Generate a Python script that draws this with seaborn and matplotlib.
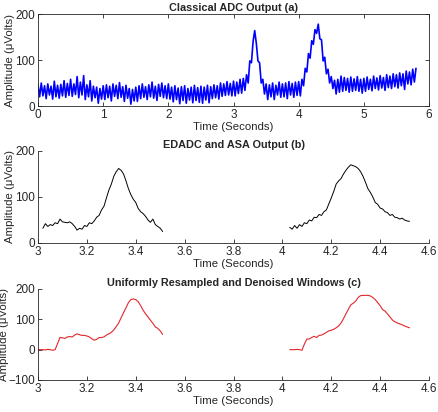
import matplotlib
matplotlib.use("Agg")
import matplotlib.pyplot as plt
import numpy as np
import pandas as pd
import seaborn as sns

# --- data --------------------------------------------------------------
# (a) classical ADC output, one sample every 0.025 s from 0 to 5.8 s
adc_t0, adc_dt = 0.0, 0.025
adc_uv = [
    46, 20, 50, 22, 44, 16, 48, 24, 43, 15, 54, 20, 45, 17, 47, 22, 55, 19, 49, 23,
    58, 21, 48, 25, 64, 18, 52, 24, 66, 14, 46, 20, 55, 11, 43, 18, 41, 6, 38, 15,
    44, 14, 46, 18, 43, 11, 48, 21, 45, 16, 51, 19, 42, 10, 45, 17, 38, 4, 36, 11,
    41, 10, 44, 16, 48, 19, 42, 14, 46, 20, 52, 17, 43, 12, 47, 21, 50, 18, 44, 16,
    48, 15, 41, 9, 44, 14, 39, 5, 42, 12, 44, 6, 38, 13, 41, 7, 45, 12, 40, 8,
    43, 6, 41, 13, 45, 7, 42, 16, 46, 18, 44, 15, 50, 21, 48, 23, 53, 24, 49, 22,
    54, 22, 52, 27, 58, 28, 60, 34, 68, 50, 98, 94, 140, 164, 136, 98, 94, 50, 58, 26,
    48, 14, 46, 20, 50, 14, 45, 24, 52, 19, 48, 20, 50, 16, 53, 24, 49, 19, 52, 23,
    53, 22, 58, 44, 82, 74, 114, 104, 142, 134, 166, 158, 178, 146, 144, 98, 106, 70, 80, 50,
    64, 38, 56, 26, 58, 30, 65, 32, 62, 34, 60, 30, 63, 32, 59, 34, 64, 32, 58, 28,
    60, 32, 63, 36, 58, 33, 65, 38, 61, 35, 66, 39, 62, 34, 68, 40, 65, 38, 70, 42,
    68, 39, 72, 44, 70, 36, 76, 48, 74, 46, 80, 52, 82,
]

# (b) EDADC + ASA output, two event windows, 0.01 s spacing
win_dt = 0.01
edadc_t0_1 = 3.02
edadc_uv_1 = [
    32, 42, 36, 40, 38, 44, 42, 52, 46, 45, 44, 46, 42, 36, 28, 32, 30, 38, 36, 44,
    42, 48, 56, 60, 72, 80, 98, 115, 128, 145, 155, 162, 158, 150, 135, 118, 105, 95, 88, 75,
    68, 64, 58, 50, 45, 52, 40, 36, 32, 25,
]
edadc_t0_2 = 4.03
edadc_uv_2 = [
    34, 30, 38, 32, 40, 36, 44, 42, 50, 48, 56, 55, 62, 60, 68, 72, 85, 98, 112, 128,
    135, 140, 150, 158, 165, 170, 168, 166, 162, 155, 145, 132, 118, 110, 100, 88, 84, 76, 74, 68,
    66, 60, 62, 56, 55, 52, 54, 50, 48, 47,
]

# (c) uniformly resampled and denoised windows, 0.01 s spacing
res_t0_1 = 3.00
res_uv_1 = [
    0, 0, 0, -1, 1, 0, -2, 0, 20, 40, 39, 37, 42, 43, 42, 48, 52, 49, 47, 47,
    45, 42, 36, 31, 34, 40, 40, 42, 48, 52, 57, 65, 76, 88, 105, 122, 138, 155, 165, 167,
    165, 158, 145, 130, 118, 108, 97, 87, 75, 70, 62, 50,
]
res_t0_2 = 4.03
res_uv_2 = [
    0, 0, 0, 1, 0, -2, 18, 35, 35, 40, 44, 40, 47, 48, 52, 57, 62, 64, 67, 72,
    78, 88, 102, 118, 133, 148, 153, 160, 172, 178, 179, 179, 179, 177, 172, 165, 155, 145, 132, 127,
    118, 108, 98, 92, 88, 85, 82, 78, 75, 72,
]


def frame(t0, dt, values):
    t = t0 + dt * np.arange(len(values))
    return pd.DataFrame({"time": t, "amp": values})


sns.set_style("ticks")
plt.rcParams["font.family"] = ["Liberation Sans", "DejaVu Sans"]
plt.rcParams["xtick.direction"] = "in"
plt.rcParams["ytick.direction"] = "in"
plt.rcParams["xtick.major.size"] = 3
plt.rcParams["ytick.major.size"] = 3
plt.rcParams["axes.linewidth"] = 0.6
plt.rcParams["axes.edgecolor"] = "#262626"

FS = 8.5
TXT = "#262626"

fig = plt.figure(figsize=(4.38, 4.12), dpi=100)
ax_a = fig.add_axes([0.0868, 0.7427, 0.8927, 0.2233])
ax_b = fig.add_axes([0.0868, 0.4102, 0.8927, 0.2233])
ax_c = fig.add_axes([0.0868, 0.0777, 0.8927, 0.2209])

sns.lineplot(data=frame(adc_t0, adc_dt, adc_uv), x="time", y="amp", ax=ax_a,
             color="#0000ff", lw=1.2, estimator=None, sort=False)
for t0, vals in [(edadc_t0_1, edadc_uv_1), (edadc_t0_2, edadc_uv_2)]:
    sns.lineplot(data=frame(t0, win_dt, vals), x="time", y="amp", ax=ax_b,
                 color="black", lw=0.7, estimator=None, sort=False)
for t0, vals in [(res_t0_1, res_uv_1), (res_t0_2, res_uv_2)]:
    sns.lineplot(data=frame(t0, win_dt, vals), x="time", y="amp", ax=ax_c,
                 color="#e3262b", lw=0.8, estimator=None, sort=False)

ax_a.set_xlim(0, 6)
ax_a.set_xticks(range(7))
ax_a.set_ylim(0, 200)
ax_a.set_yticks([0, 100, 200])
ax_a.tick_params(top=True, right=True)

for ax in (ax_b, ax_c):
    ax.set_xlim(3, 4.6)
    ticks = [3, 3.2, 3.4, 3.6, 3.8, 4, 4.2, 4.4, 4.6]
    ax.set_xticks(ticks)
    ax.set_xticklabels([f"{v:g}" for v in ticks])
    sns.despine(ax=ax)
ax_b.set_ylim(0, 200)
ax_b.set_yticks([0, 100, 200])
ax_c.set_ylim(-100, 200)
ax_c.set_yticks([-100, 0, 100, 200])

titles = ["Classical ADC Output (a)", "EDADC and ASA Output (b)",
          "Uniformly Resampled and Denoised Windows (c)"]
for ax, title in zip((ax_a, ax_b, ax_c), titles):
    ax.set_title(title, fontsize=7.8, fontweight="bold", pad=2)
    ax.set_xlabel("Time (Seconds)", fontsize=8.2, color=TXT, labelpad=1)
    ax.set_ylabel("Amplitude (\u03bcVolts)", fontsize=8.2, color=TXT)
    ax.tick_params(labelsize=FS, colors=TXT, width=0.6, pad=2)

ax_a.yaxis.set_label_coords(-0.06, 0.5)
ax_b.yaxis.set_label_coords(-0.06, 0.5)
ax_c.yaxis.set_label_coords(-0.073, 0.5)

fig.savefig("out.png", dpi=100)
